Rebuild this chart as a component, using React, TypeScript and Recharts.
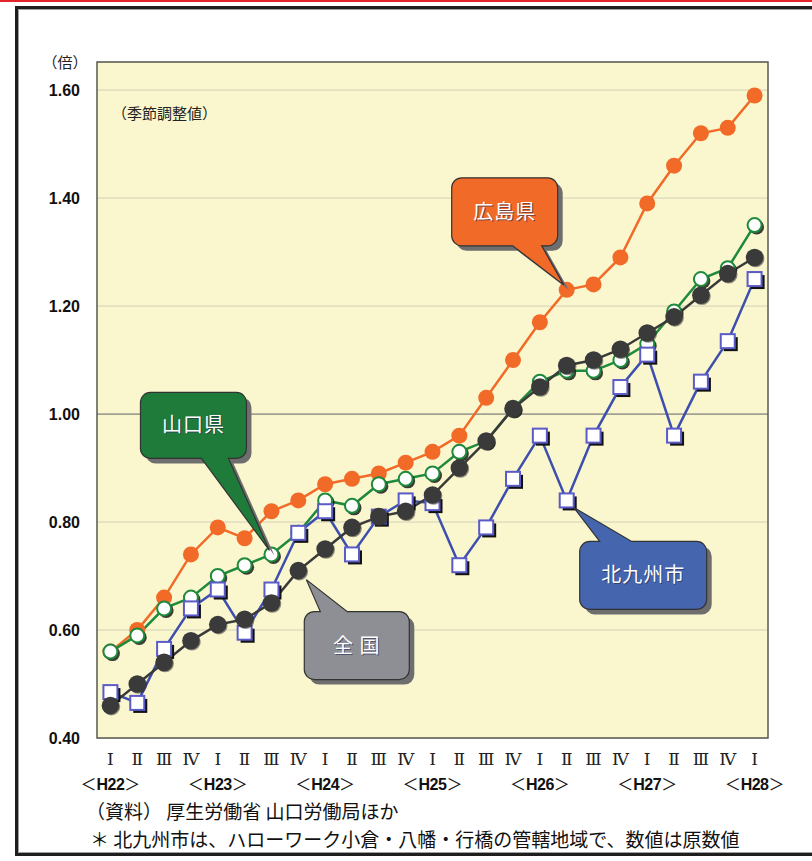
import React from 'react';
import {
  LineChart,
  Line,
  XAxis,
  YAxis,
  CartesianGrid,
  ReferenceLine,
  ReferenceDot,
} from 'recharts';

// ---- data ----
const periods = [
  'H22Ⅰ', 'H22Ⅱ', 'H22Ⅲ', 'H22Ⅳ',
  'H23Ⅰ', 'H23Ⅱ', 'H23Ⅲ', 'H23Ⅳ',
  'H24Ⅰ', 'H24Ⅱ', 'H24Ⅲ', 'H24Ⅳ',
  'H25Ⅰ', 'H25Ⅱ', 'H25Ⅲ', 'H25Ⅳ',
  'H26Ⅰ', 'H26Ⅱ', 'H26Ⅲ', 'H26Ⅳ',
  'H27Ⅰ', 'H27Ⅱ', 'H27Ⅲ', 'H27Ⅳ',
  'H28Ⅰ',
];

const hiroshima = [0.56, 0.6, 0.66, 0.74, 0.79, 0.77, 0.82, 0.84, 0.87, 0.88, 0.89, 0.91, 0.93, 0.96, 1.03, 1.1, 1.17, 1.23, 1.24, 1.29, 1.39, 1.46, 1.52, 1.53, 1.59];
const yamaguchi = [0.56, 0.59, 0.64, 0.66, 0.7, 0.72, 0.74, 0.78, 0.84, 0.83, 0.87, 0.88, 0.89, 0.93, 0.95, 1.01, 1.06, 1.08, 1.08, 1.1, 1.13, 1.19, 1.25, 1.27, 1.35];
const kitakyushu = [0.485, 0.465, 0.565, 0.64, 0.675, 0.595, 0.675, 0.78, 0.82, 0.74, 0.81, 0.84, 0.835, 0.72, 0.79, 0.88, 0.96, 0.84, 0.96, 1.05, 1.11, 0.96, 1.06, 1.135, 1.25];
const national = [0.46, 0.5, 0.54, 0.58, 0.61, 0.62, 0.65, 0.71, 0.75, 0.79, 0.81, 0.82, 0.85, 0.9, 0.95, 1.01, 1.05, 1.09, 1.1, 1.12, 1.15, 1.18, 1.22, 1.26, 1.29];

const yTicks = [0.4, 0.6, 0.8, 1.0, 1.2, 1.4, 1.6];

const data = periods.map((p, i) => ({
  period: p,
  hiroshima: hiroshima[i],
  yamaguchi: yamaguchi[i],
  kitakyushu: kitakyushu[i],
  national: national[i],
}));

// ---- style ----
const JP = "'Noto Sans CJK JP', 'Noto Sans', sans-serif";
const SANS = "'Liberation Sans', Arial, sans-serif";
const Y_MIN = 0.4;
const Y_TOP = 1.652;
const X_PAD = 13.42;
const MARGIN = { top: 62, right: 44, bottom: 63, left: 0 };
const Y_AXIS_W = 97;
const X_AXIS_H = 60;
const CHART_W = 812;
const CHART_H = 861;
const ORANGE = '#F26A27';
const GREEN = '#1F8A3C';
const BLUE = '#3D4FAE';
const DARK = '#3A3A3A';

function QuarterTick(props: any) {
  const { x, y, payload } = props;
  const label: string = payload.value;
  const q = label.slice(3);
  const yr = label.slice(0, 3);
  return (
    <g>
      <text x={x} y={y + 27} textAnchor="middle" fontFamily="'DejaVu Serif', serif" fontSize={17} fill="#222">
        {q}
      </text>
      {q === 'Ⅰ' && (
        <text x={x} y={y + 52} textAnchor="middle" fontSize={16} fill="#111">
          <tspan fontFamily={JP}>＜</tspan>
          <tspan fontFamily={SANS} fontWeight="bold" letterSpacing={-0.5}>{yr}</tspan>
          <tspan fontFamily={JP}>＞</tspan>
        </text>
      )}
    </g>
  );
}

const orangeDot = (p: any) => (
  <circle key={`o${p.index}`} cx={p.cx} cy={p.cy} r={8} fill={ORANGE} />
);
const greenDot = (p: any) => (
  <g key={`g${p.index}`}>
    <circle cx={p.cx + 2} cy={p.cy + 2} r={7.5} fill="#1a1a1a" opacity={0.85} />
    <circle cx={p.cx} cy={p.cy} r={7} fill="#fff" stroke={GREEN} strokeWidth={2} />
  </g>
);
const blueDot = (p: any) => (
  <g key={`b${p.index}`}>
    <rect x={p.cx - 7 + 3} y={p.cy - 7 + 3} width={14} height={14} fill="#111" />
    <rect x={p.cx - 7} y={p.cy - 7} width={14} height={14} fill="#fff" stroke="#5B5BC8" strokeWidth={2} />
  </g>
);
const darkDot = (p: any) => (
  <g key={`d${p.index}`}>
    <circle cx={p.cx + 1} cy={p.cy + 1} r={8.8} fill="#222" opacity={0.5} />
    <circle cx={p.cx} cy={p.cy} r={8.8} fill={DARK} />
  </g>
);

type CalloutGeom = {
  x0: number; x1: number; y0: number; y1: number;
  side: 'top' | 'bottom'; a: number; b: number; tx: number; ty: number;
};

function calloutPath(g: CalloutGeom, ox: number, oy: number) {
  const r = 10;
  const x0 = g.x0 + ox, x1 = g.x1 + ox, y0 = g.y0 + oy, y1 = g.y1 + oy;
  const a = g.a + ox, b = g.b + ox, tx = g.tx + ox, ty = g.ty + oy;
  if (g.side === 'bottom') {
    return `M${x0 + r},${y0} H${x1 - r} A${r},${r} 0 0 1 ${x1},${y0 + r} V${y1 - r} A${r},${r} 0 0 1 ${x1 - r},${y1} H${b} L${tx},${ty} L${a},${y1} H${x0 + r} A${r},${r} 0 0 1 ${x0},${y1 - r} V${y0 + r} A${r},${r} 0 0 1 ${x0 + r},${y0} Z`;
  }
  return `M${x0 + r},${y0} H${a} L${tx},${ty} L${b},${y0} H${x1 - r} A${r},${r} 0 0 1 ${x1},${y0 + r} V${y1 - r} A${r},${r} 0 0 1 ${x1 - r},${y1} H${x0 + r} A${r},${r} 0 0 1 ${x0},${y1 - r} V${y0 + r} A${r},${r} 0 0 1 ${x0 + r},${y0} Z`;
}

function makeCallout(text: string, fill: string, geom: CalloutGeom) {
  return (props: any) => {
    const { cx, cy } = props;
    if (cx == null || cy == null) return <g />;
    const tcx = cx + (geom.x0 + geom.x1) / 2;
    const tcy = cy + (geom.y0 + geom.y1) / 2 + 7;
    return (
      <g>
        <path d={calloutPath(geom, cx + 5, cy + 5)} fill="#6e6e6e" />
        <path d={calloutPath(geom, cx, cy)} fill={fill} stroke="#333" strokeWidth={1.2} />
        <text x={tcx + 1} y={tcy + 1} textAnchor="middle" fontFamily={JP} fontSize={20} fill="#2a2a50" opacity={0.6} letterSpacing={1}>
          {text}
        </text>
        <text x={tcx} y={tcy} textAnchor="middle" fontFamily={JP} fontSize={20} fill="#fff" letterSpacing={1}>
          {text}
        </text>
      </g>
    );
  };
}

const hiroshimaCallout = makeCallout('広島県', ORANGE, { x0: -115, x1: -9, y0: -112, y1: -44, side: 'bottom', a: -54, b: -25, tx: -3, ty: -5 });
const yamaguchiCallout = makeCallout('山口県', '#1E7B3A', { x0: -131, x1: -25, y0: -162, y1: -96, side: 'bottom', a: -70, b: -43, tx: -2, ty: -4 });
const nationalCallout = makeCallout('全 国', '#8E8F94', { x0: 6, x1: 111, y0: 41, y1: 109, side: 'top', a: 22, b: 49, tx: 8, ty: 9 });
const kitakyushuCallout = makeCallout('北九州市', '#4565AF', { x0: 13, x1: 140, y0: 41, y1: 109, side: 'top', a: 33, b: 65, tx: 7, ty: 7 });

// plot-area frame derived from the chart layout constants
const PLOT_X = MARGIN.left + Y_AXIS_W;
const PLOT_Y = MARGIN.top;
const PLOT_W = CHART_W - MARGIN.left - MARGIN.right - Y_AXIS_W;
const PLOT_H = CHART_H - MARGIN.top - MARGIN.bottom - X_AXIS_H;

export default function App() {
  return (
    <div style={{ position: 'absolute', left: 0, top: 0, width: CHART_W, height: CHART_H, background: '#fff', overflow: 'hidden' }}>
      <LineChart width={CHART_W} height={CHART_H} data={data} margin={MARGIN}>
        <CartesianGrid vertical={false} horizontal stroke="#d2d0b8" fill="#FAF7CE" fillOpacity={1} />
        <XAxis
          dataKey="period"
          interval={0}
          padding={{ left: X_PAD, right: X_PAD }}
          tick={<QuarterTick />}
          tickLine={false}
          axisLine={false}
          tickSize={0}
          tickMargin={0}
          height={X_AXIS_H}
        />
        <YAxis
          domain={[Y_MIN, Y_TOP]}
          allowDataOverflow
          ticks={yTicks}
          tickFormatter={(v: number) => v.toFixed(2)}
          width={Y_AXIS_W}
          tickLine={false}
          axisLine={false}
          tickSize={0}
          tickMargin={17}
          tick={{ fontFamily: SANS, fontWeight: 'bold', fontSize: 16, fill: '#111' }}
        />
        <ReferenceLine y={1} stroke="#8a897e" strokeWidth={1.2} />
        <Line type="linear" dataKey="hiroshima" stroke={ORANGE} strokeWidth={2.5} dot={orangeDot} activeDot={false} isAnimationActive={false} />
        <Line type="linear" dataKey="yamaguchi" stroke={GREEN} strokeWidth={2.5} dot={greenDot} activeDot={false} isAnimationActive={false} />
        <Line type="linear" dataKey="kitakyushu" stroke={BLUE} strokeWidth={2.5} dot={blueDot} activeDot={false} isAnimationActive={false} />
        <Line type="linear" dataKey="national" stroke={DARK} strokeWidth={2.5} dot={darkDot} activeDot={false} isAnimationActive={false} />
        <ReferenceDot x="H26Ⅱ" y={1.23} ifOverflow="visible" shape={hiroshimaCallout} />
        <ReferenceDot x="H23Ⅲ" y={0.74} ifOverflow="visible" shape={yamaguchiCallout} />
        <ReferenceDot x="H23Ⅳ" y={0.71} ifOverflow="visible" shape={nationalCallout} />
        <ReferenceDot x="H26Ⅱ" y={0.84} ifOverflow="visible" shape={kitakyushuCallout} />
      </LineChart>
      <svg
        width={CHART_W}
        height={CHART_H}
        style={{ position: 'absolute', left: 0, top: 0, pointerEvents: 'none' }}
      >
        <rect x={PLOT_X} y={PLOT_Y} width={PLOT_W} height={PLOT_H} fill="none" stroke="#5a5a52" strokeWidth={1.5} />
        <rect x={0} y={0} width={812} height={2} fill="#E3232B" />
        <rect x={16.5} y={7.5} width={820} height={847} fill="none" stroke="#1e1e1e" strokeWidth={3} />
        <rect x={18.5} y={9.5} width={820} height={843} fill="none" stroke="#a0a0a0" strokeWidth={1} />
        <text x={65} y={68} textAnchor="middle" fontFamily={JP} fontSize={15} fill="#222">（倍）</text>
        <text x={112} y={119} fontFamily={JP} fontSize={15} fill="#222">（季節調整値）</text>
        <text x={86} y={819} fontFamily={JP} fontSize={19} fill="#111">（資料） 厚生労働省 山口労働局ほか</text>
        <text x={90} y={847} fontFamily={JP} fontSize={19} fill="#111">＊ 北九州市は、ハローワーク小倉・八幡・行橋の管轄地域で、数値は原数値</text>
      </svg>
    </div>
  );
}
